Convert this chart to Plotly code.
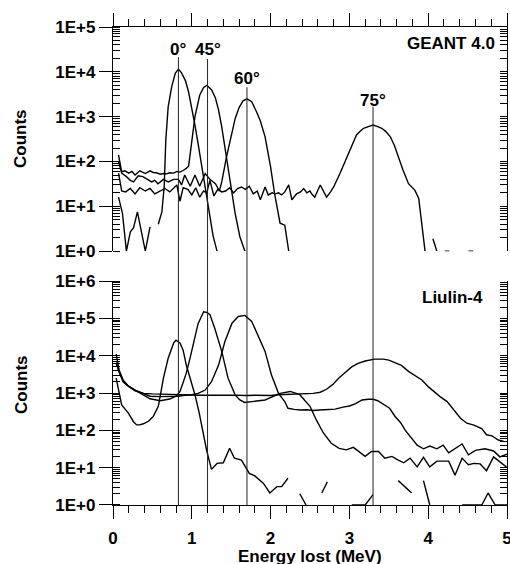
import plotly.graph_objects as go

FONT = "Liberation Sans, Arial, sans-serif"

# ---------------- data: GEANT 4.0 (top panel) ----------------
geant_0_E = [0.07, 0.12, 0.17, 0.22, 0.26, 0.31, 0.41, 0.47, 0.52, 0.575, 0.62, 0.65, 0.67, 0.70,
             0.745, 0.79, 0.83, 0.87, 0.92, 0.96, 1.00, 1.04, 1.08, 1.12, 1.17, 1.23, 1.27, 1.32]
geant_0_counts = [16, 7, 1, 2.7, 3.3, 7.5, 1, 3.5, None, 4, 7.5, 28, 300, 1650,
                  4700, 9300, 11500, 9500, 6300, 3500, 1650, 650, 250, 90, 32, 7, 2.2, 1]

geant_45_E = [0.07, 0.11, 0.15, 0.20, 0.24, 0.28, 0.34, 0.38, 0.41, 0.47, 0.51, 0.55, 0.60, 0.64,
              0.68, 0.72, 0.77, 0.81, 0.85, 0.89, 0.93, 0.96, 1.00, 1.04, 1.10, 1.15, 1.19, 1.25,
              1.30, 1.34, 1.38, 1.44, 1.51, 1.55, 1.61, 1.675]
geant_45_counts = [140, 59, 62, 55, 60, 50, 62, 58, 54, 62, 57, 56, 52, 54,
                   53, 56, 55, 60, 58, 63, 70, 80, 300, 1000, 3000, 4500, 5000, 4000,
                   2600, 1400, 590, 125, 23, 7, 2.1, 1]

geant_60_E = [0.07, 0.11, 0.17, 0.22, 0.26, 0.32, 0.38, 0.43, 0.49, 0.53, 0.57, 0.64, 0.70, 0.77,
              0.83, 0.87, 0.91, 0.98, 1.04, 1.10, 1.17, 1.23, 1.30, 1.35, 1.38, 1.44, 1.50, 1.55,
              1.60, 1.65, 1.70, 1.76, 1.82, 1.87, 1.93, 2.00, 2.05, 2.12, 2.18, 2.23]
geant_60_counts = [100, 55, 46, 38, 35, 48, 46, 40, 35, 38, 32, 40, 35, 40,
                   40, 30, 50, 28, 50, 28, 54, 40, 32, 22, 35, 125, 400, 900,
                   1600, 2250, 2500, 2150, 1300, 800, 355, 76, 19.5, 4.2, 3.8, 1]

geant_75_E = [0.07, 0.11, 0.16, 0.22, 0.28, 0.34, 0.41, 0.47, 0.53, 0.60, 0.66, 0.72, 0.78, 0.81,
              0.85, 0.89, 0.95, 1.00, 1.05, 1.10, 1.15, 1.19, 1.23, 1.28, 1.33, 1.38, 1.43, 1.48,
              1.53, 1.58, 1.63, 1.68, 1.73, 1.78, 1.83, 1.87, 1.93, 1.97, 2.02, 2.06, 2.10, 2.14,
              2.18, 2.23, 2.27, 2.33, 2.38, 2.42, 2.46, 2.50, 2.52, 2.56, 2.63, 2.71, 2.76, 2.80,
              2.88, 2.97, 3.03, 3.09, 3.14, 3.18, 3.24, 3.30, 3.36, 3.41, 3.46, 3.52, 3.57, 3.62,
              3.68, 3.75, 3.80, 3.83, 3.88, 3.92, 3.96, 4.01, 4.06, 4.11, 4.16, 4.21, 4.27, 4.40,
              4.51, 4.57]
geant_75_counts = [55, 22, 21, 25, 19, 26, 22, 25, 19, 22, 25, 21, 27, 30,
                   13, 26, 24, 18, 26, 16, 22, 20, 38, 17, 24, 21, 22, 26,
                   20, 25, 27, 24, 28, 19, 22, 14, 27, 18, 20, 19, 20, 18,
                   21, 30, 14, 19, 21, 25, 20, 22, 19, 16, 30, 16, 21, 27,
                   54, 126, 230, 390, 480, 550, 600, 650, 600, 550, 470, 355, 230, 126,
                   65, 32, 26, 23, 15, 4, 1, None, 1.9, 1, None, 1, 1, None,
                   1, 1]

# ---------------- data: Liulin-4 (bottom panel) ----------------
liulin_0_E = [0.04, 0.11, 0.195, 0.26, 0.30, 0.34, 0.385, 0.45, 0.51, 0.575, 0.64, 0.70, 0.77, 0.80,
              0.85, 0.89, 0.93, 0.99, 1.04, 1.09, 1.14, 1.19, 1.25, 1.32, 1.40, 1.48, 1.54, 1.63,
              1.73, 1.80, 1.91, 1.99, 2.08, 2.14, 2.22, 2.30, 2.37, 2.45, 2.55, 2.65, 2.72, 2.90,
              3.03, 3.20, 3.30, 3.45, 3.62, 3.79, 3.86, 3.94, 4.02, 4.20, 4.43, 4.68, 4.76, 4.85,
              5.0]
liulin_0_counts = [2500, 480, 290, 170, 140, 140, 150, 175, 235, 440, 2500, 8500, 22000, 26000,
                   22000, 14000, 5600, 2000, 900, 320, 90, 28, 9, 13, 13.5, 33, 18, 16,
                   7, 6, 3.8, 2.1, 3.1, 3.1, 5.2, None, 2, 1, None, 2.1, 4.2, None,
                   1, 1, 1.9, None, 4.5, 2.1, None, 4.5, 1, None, 1, 1, 2.1, 1,
                   1]

liulin_45_E = [0.04, 0.08, 0.13, 0.20, 0.28, 0.385, 0.47, 0.60, 0.72, 0.81, 0.85, 0.89, 0.93, 0.98,
               1.02, 1.08, 1.15, 1.19, 1.23, 1.29, 1.38, 1.46, 1.55, 1.61, 1.67, 1.75, 1.85, 1.93,
               2.03, 2.12, 2.25, 2.37, 2.50, 2.58, 2.67, 2.77, 2.87, 2.96, 3.05, 3.12, 3.20, 3.28,
               3.37, 3.45, 3.54, 3.62, 3.69, 3.77, 3.86, 3.94, 4.02, 4.11, 4.19, 4.26, 4.34, 4.43,
               4.51, 4.58, 4.66, 4.74, 4.83, 4.91, 5.0]
liulin_45_counts = [6500, 3600, 2000, 1500, 1200, 900, 700, 620, 690, 850, 1100, 1900, 3400, 9000,
                    21000, 72000, 150000, 145000, 126000, 55000, 13000, 2500, 890, 650, 560, 575, 620, 650,
                    800, 980, 1100, 900, 440, 190, 85, 45, 33, 30, 35, 27, 20, 27,
                    27, 18, 20, 16, 13.5, 18, 10.5, 19, 10.5, 15, 15, 15, 6.3, 18,
                    12, 13, 12.6, 8.3, 19.5, 14.5, 10.2]

liulin_60_E = [0.04, 0.08, 0.13, 0.20, 0.28, 0.385, 0.47, 0.60, 0.72, 0.83, 0.91, 1.0, 1.08, 1.17,
               1.25, 1.34, 1.42, 1.51, 1.59, 1.675, 1.76, 1.84, 1.93, 2.01, 2.10, 2.18, 2.22, 2.30,
               2.38, 2.46, 2.54, 2.62, 2.71, 2.82, 2.92, 3.0, 3.08, 3.16, 3.24, 3.30, 3.36, 3.41,
               3.45, 3.51, 3.58, 3.65, 3.71, 3.79, 3.86, 3.94, 4.02, 4.11, 4.19, 4.26, 4.36, 4.43,
               4.51, 4.60, 4.72, 4.83, 4.91, 5.0]
liulin_60_counts = [6500, 3600, 2000, 1500, 1200, 950, 820, 800, 800, 820, 870, 900, 980, 1200,
                    2000, 5600, 24000, 74000, 112000, 120000, 83000, 36000, 13000, 3100, 980, 590, 390, 365,
                    350, 355, 340, 350, 365, 370, 420, 450, 520, 650, 680, 680, 620, 540,
                    480, 390, 235, 160, 100, 63, 40, 32, 38, 32, 40, 25, 35, 43,
                    22, 29, 32, 28, 19.5, 23]

liulin_75_E = [0.04, 0.08, 0.13, 0.20, 0.28, 0.385, 0.5, 0.6, 0.7, 0.8, 0.9, 1.0, 1.1, 1.2,
               1.3, 1.4, 1.5, 1.6, 1.7, 1.8, 1.9, 2.0, 2.1, 2.22, 2.39, 2.54, 2.63, 2.71,
               2.79, 2.86, 2.95, 3.03, 3.11, 3.20, 3.32, 3.43, 3.50, 3.58, 3.66, 3.75, 3.83, 3.92,
               4.0, 4.09, 4.15, 4.24, 4.32, 4.41, 4.49, 4.58, 4.68, 4.74, 4.81, 4.89, 4.97]
liulin_75_counts = [11000, 4000, 2200, 1500, 1150, 980, 950, 930, 910, 890, 880, 880, 870, 880,
                    860, 870, 880, 850, 860, 870, 850, 860, 900, 930, 930, 980, 1050, 1260,
                    1700, 2450, 3600, 5000, 6200, 7200, 8100, 8100, 7600, 6600, 5500, 3800, 3000, 2240,
                    1480, 1000, 800, 590, 355, 210, 155, 138, 112, 76, 71, 55, 50]

# ---------------- angle markers & ticks ----------------
angle_E = [0.83, 1.20, 1.70, 3.30]
angle_labels = ["0°", "45°", "60°", "75°"]
angle_label_y = [0.952, 0.952, 0.893, 0.847]   # paper positions (style)
angle_line_top = [0.937, 0.933, 0.874, 0.833]

energy_ticks = [0, 1, 2, 3, 4, 5]
energy_ticktext = ["0", "1", "2", "3", "4", "5"]
geant_ticks = [1, 10, 100, 1000, 10000, 100000]
geant_ticktext = ["1E+0", "1E+1", "1E+2", "1E+3", "1E+4", "1E+5"]
liulin_ticks = [1, 10, 100, 1000, 10000, 100000, 1000000]
liulin_ticktext = ["1E+0", "1E+1", "1E+2", "1E+3", "1E+4", "1E+5", "1E+6"]

BOLD = dict(family=FONT, size=17, color="black", weight="bold")
TICKF = dict(family=FONT, size=17, color="black", weight="bold")
LINE = dict(color="black", width=1.4)

fig = go.Figure()
for E, c in [(geant_0_E, geant_0_counts), (geant_45_E, geant_45_counts),
             (geant_60_E, geant_60_counts), (geant_75_E, geant_75_counts)]:
    fig.add_trace(go.Scatter(x=E, y=c, mode="lines", line=LINE, xaxis="x2", yaxis="y2",
                             showlegend=False, hoverinfo="skip", connectgaps=False))
for E, c in [(liulin_0_E, liulin_0_counts), (liulin_45_E, liulin_45_counts),
             (liulin_60_E, liulin_60_counts), (liulin_75_E, liulin_75_counts)]:
    fig.add_trace(go.Scatter(x=E, y=c, mode="lines", line=LINE, xaxis="x", yaxis="y",
                             showlegend=False, hoverinfo="skip", connectgaps=False))
# dummy traces to activate right-hand mirror axes
fig.add_trace(go.Scatter(x=[None], y=[None], xaxis="x", yaxis="y3", showlegend=False))
fig.add_trace(go.Scatter(x=[None], y=[None], xaxis="x2", yaxis="y4", showlegend=False))

AX = dict(color="black", linecolor="black", linewidth=1.2, showline=True, showgrid=False,
          zeroline=False, tickcolor="black", tickwidth=1.2, automargin=False)
MINOR_X = dict(dtick=0.2, ticks="outside", ticklen=7, tickwidth=1.2, tickcolor="black", showgrid=False)
MINOR_Y_IN = dict(dtick="D1", ticks="inside", ticklen=7, tickwidth=1, tickcolor="black", showgrid=False)

top_dom = [0.531, 1.0]
bot_dom = [0.0, 0.4686]

fig.update_layout(
    width=510, height=564,
    margin=dict(l=113, r=3, t=27, b=59, autoexpand=False),
    paper_bgcolor="white", plot_bgcolor="white",
    xaxis=dict(**AX, domain=[0, 1], anchor="y", range=[0, 5], tickmode="array",
               tickvals=energy_ticks, ticktext=energy_ticktext, ticks="outside", ticklen=13,
               tickfont=BOLD, minor=MINOR_X, ticklabelstandoff=4, ticklabeloverflow="allow"),
    xaxis2=dict(**AX, domain=[0, 1], anchor="y2", side="top", matches="x", range=[0, 5],
                tickmode="array", tickvals=energy_ticks, ticks="outside", ticklen=13,
                showticklabels=False, minor=MINOR_X),
    yaxis=dict(**AX, domain=bot_dom, anchor="x", type="log", range=[0, 6], tickmode="array",
               tickvals=liulin_ticks, ticktext=liulin_ticktext, ticks="outside", ticklen=13,
               tickfont=TICKF, minor=MINOR_Y_IN, ticklabeloverflow="allow"),
    yaxis2=dict(**AX, domain=top_dom, anchor="x2", type="log", range=[0, 5], tickmode="array",
                tickvals=geant_ticks, ticktext=geant_ticktext, ticks="outside", ticklen=13,
                tickfont=TICKF, minor=MINOR_Y_IN, ticklabeloverflow="allow"),
    yaxis3=dict(**AX, overlaying="y", side="right", anchor="x", type="log", range=[0, 6],
                tickmode="array", tickvals=liulin_ticks, ticks="inside", ticklen=7,
                showticklabels=False, minor=MINOR_Y_IN),
    yaxis4=dict(**AX, overlaying="y2", side="right", anchor="x2", type="log", range=[0, 5],
                tickmode="array", tickvals=geant_ticks, ticks="inside", ticklen=7,
                showticklabels=False, minor=MINOR_Y_IN),
)

shapes = []
annotations = []
for E, lab, ly, lt in zip(angle_E, angle_labels, angle_label_y, angle_line_top):
    shapes.append(dict(type="line", xref="x", yref="paper", x0=E, x1=E, y0=0, y1=lt,
                       line=dict(color="#222", width=1)))
    annotations.append(dict(text=lab, xref="x", yref="paper", x=E, y=ly, showarrow=False,
                            xanchor="center", yanchor="middle", font=BOLD))

annotations += [
    dict(text="GEANT 4.0", xref="paper", yref="paper", x=0.9746, y=0.9665, showarrow=False,
         xanchor="right", yanchor="middle", font=BOLD),
    dict(text="Liulin-4", xref="paper", yref="paper", x=0.944, y=0.435, showarrow=False,
         xanchor="right", yanchor="middle", font=BOLD),
    dict(text="Counts", xref="paper", yref="paper", x=-0.2335, y=0.7657, showarrow=False,
         xanchor="center", yanchor="middle", textangle=-90, font=BOLD),
    dict(text="Counts", xref="paper", yref="paper", x=-0.2335, y=0.251, showarrow=False,
         xanchor="center", yanchor="middle", textangle=-90, font=BOLD),
    dict(text="Energy lost (MeV)", xref="paper", yref="paper", x=0.5, y=-0.1067, showarrow=False,
         xanchor="center", yanchor="middle", font=BOLD),
]
fig.update_layout(shapes=shapes, annotations=annotations)

fig.write_html("out.html", config={"displayModeBar": False},
               post_script="document.body.style.margin='0px';document.body.style.overflow='hidden';")
